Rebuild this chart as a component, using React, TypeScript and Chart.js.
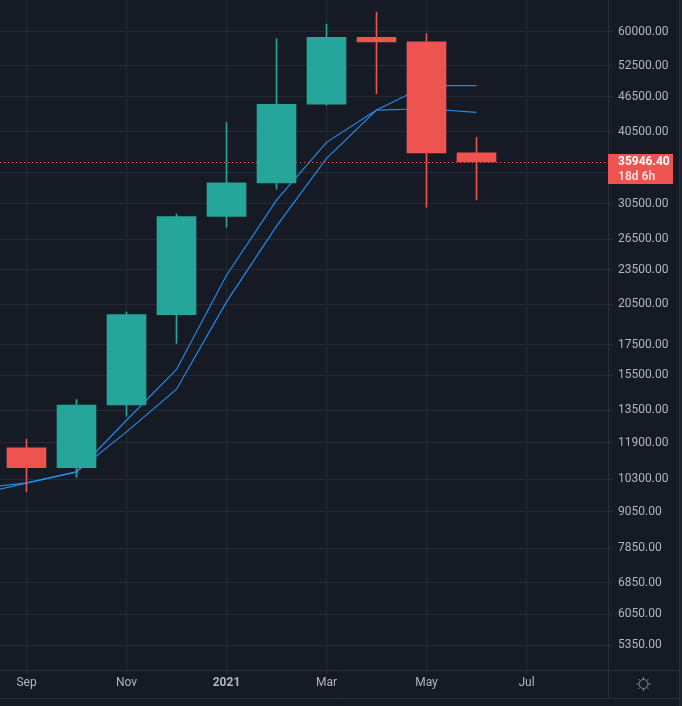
import React, { useEffect, useRef } from "react";
import { Chart, registerables } from "chart.js";

Chart.register(...registerables);

// ---- data (monthly candles, Sep 2020 .. Jun 2021) ----
const categories = ["Sep 2020", "Oct 2020", "Nov 2020", "Dec 2020", "Jan 2021", "Feb 2021", "Mar 2021", "Apr 2021", "May 2021", "Jun 2021"];
const opens = [11650, 10777, 13797, 19700, 29000, 33115, 45137, 58740, 57694, 37254];
const highs = [12050, 14100, 19900, 29300, 42000, 58400, 61900, 64900, 59600, 39600];
const lows = [9800, 10370, 13200, 17580, 27800, 32300, 44950, 47040, 30080, 30950];
const closes = [10777, 13797, 19700, 29000, 33115, 45137, 58740, 57694, 37254, 35946.4];

// moving averages, Aug 2020 .. Jun 2021
const maIndex = [-1, 0, 1, 2, 3, 4, 5, 6, 7, 8, 9];
const maFast = [9920, 10150, 10600, 12990, 15870, 23010, 30930, 38840, 44110, 48590, 48550];
const maSlow = [9700, 10140, 10600, 12410, 14680, 20710, 27910, 36460, 44110, 44340, 43720];

// axis ticks
const yTicks = [5350, 6050, 6850, 7850, 9050, 10300, 11900, 13500, 15500, 17500, 20500, 23500, 26500, 30500, 34500, 40500, 46500, 52500, 60000];
const xTickPos = [0, 2, 4, 6, 8, 10];
const xTickLabels = ["Sep", "Nov", "2021", "Mar", "May", "Jul"];
const countdown = "18d 6h";

const BG = "#161a25";
const GRID = "#262a35";
const SEP = "#2a2e39";
const TXT = "#b2b5be";
const UP = "#26a69a";
const DOWN = "#ef5350";
const MA = "#2589e8";
const FONT = "Roboto, 'Liberation Sans', sans-serif";

export default function App() {
  const ref = useRef<HTMLCanvasElement | null>(null);

  useEffect(() => {
    const canvas = ref.current;
    if (!canvas) return;
    const colors = opens.map((o, i) => (closes[i] >= o ? UP : DOWN));
    const last = closes[closes.length - 1];

    const bgPlugin = {
      id: "bg",
      beforeDraw(chart: any) {
        const c = chart.ctx;
        c.save();
        c.fillStyle = BG;
        c.fillRect(0, 0, chart.width, chart.height);
        c.restore();
      },
      beforeDatasetsDraw(chart: any) {
        const c = chart.ctx;
        const y = Math.round(chart.scales.y.getPixelForValue(last)) + 0.5;
        c.save();
        c.strokeStyle = DOWN;
        c.lineWidth = 1;
        c.setLineDash([1, 3]);
        c.beginPath();
        c.moveTo(0, y);
        c.lineTo(chart.chartArea.right, y);
        c.stroke();
        c.restore();
      },
      afterDraw(chart: any) {
        const c = chart.ctx;
        const area = chart.chartArea;
        c.save();
        // separators
        c.strokeStyle = SEP;
        c.lineWidth = 1;
        c.beginPath();
        c.moveTo(0, area.bottom + 0.5);
        c.lineTo(679, area.bottom + 0.5);
        c.moveTo(0, 698.5);
        c.lineTo(679, 698.5);
        c.moveTo(area.right + 0.5, 0);
        c.lineTo(area.right + 0.5, 698);
        c.moveTo(679.5, 0);
        c.lineTo(679.5, 706);
        c.stroke();
        c.fillStyle = "#1e222d";
        c.fillRect(680, 0, 2, 706);
        // price tag
        const y = Math.round(chart.scales.y.getPixelForValue(last));
        c.fillStyle = DOWN;
        c.fillRect(area.right, y - 8, 65, 30);
        c.fillStyle = "#ffffff";
        c.font = `bold 12px ${FONT}`;
        c.textBaseline = "middle";
        c.textAlign = "left";
        c.fillText(last.toFixed(2), 618, y);
        c.fillStyle = "rgba(255,255,255,0.78)";
        c.fillText(countdown, 618, y + 15);
        // settings icon
        const cx = 643.5, cy = 684;
        c.strokeStyle = "#8a8d96";
        c.lineWidth = 1;
        c.beginPath();
        c.arc(cx, cy, 4.5, 0, Math.PI * 2);
        c.stroke();
        c.beginPath();
        for (let k = 0; k < 8; k++) {
          const a = (k * Math.PI) / 4;
          c.moveTo(cx + Math.cos(a) * 5, cy + Math.sin(a) * 5);
          c.lineTo(cx + Math.cos(a) * 7, cy + Math.sin(a) * 7);
        }
        c.stroke();
        c.restore();
      },
    };

    const chart = new Chart(canvas, {
      type: "bar",
      data: {
        datasets: [
          {
            type: "bar",
            label: "body",
            data: categories.map((_, i) => ({ x: i, y: [opens[i], closes[i]] })) as any,
            backgroundColor: colors,
            borderWidth: 0,
            barThickness: 39,
            grouped: false,
            order: 0,
          } as any,
          {
            type: "bar",
            label: "wick",
            data: categories.map((_, i) => ({ x: i, y: [lows[i], highs[i]] })) as any,
            backgroundColor: colors,
            borderWidth: 0,
            barThickness: 1,
            grouped: false,
            order: 1,
          } as any,
          {
            type: "line",
            label: "MA fast",
            data: maIndex.map((x, i) => ({ x, y: maFast[i] })),
            borderColor: MA,
            borderWidth: 1.2,
            pointRadius: 0,
            tension: 0,
            order: 2,
          } as any,
          {
            type: "line",
            label: "MA slow",
            data: maIndex.map((x, i) => ({ x, y: maSlow[i] })),
            borderColor: MA,
            borderWidth: 1.2,
            pointRadius: 0,
            tension: 0,
            order: 3,
          } as any,
        ],
      },
      options: {
        animation: false,
        responsive: false,
        devicePixelRatio: 1,
        events: [],
        layout: { padding: 0 },
        plugins: { legend: { display: false }, tooltip: { enabled: false } },
        scales: {
          x: {
            type: "linear",
            position: "bottom",
            min: -0.53,
            max: -0.53 + 608 / 50,
            offset: false,
            afterBuildTicks: (s: any) => {
              s.ticks = xTickPos.map((v) => ({ value: v }));
            },
            afterFit: (s: any) => {
              s.height = 36;
              s.paddingLeft = 0;
              s.paddingRight = 0;
              s.paddingTop = 0;
              s.paddingBottom = 0;
            },
            ticks: {
              autoSkip: false,
              maxRotation: 0,
              padding: 2,
              color: TXT,
              font: (ctx: any) => ({
                family: FONT,
                size: 12,
                weight: ctx.tick && ctx.tick.value === 4 ? "bold" : "normal",
              }),
              callback: (_v: any, i: number) => xTickLabels[i],
            },
            grid: { color: GRID, tickLength: 4, tickColor: SEP, offset: false },
            border: { display: false },
          },
          y: {
            type: "logarithmic",
            position: "right",
            min: 4855,
            max: 68060,
            afterBuildTicks: (s: any) => {
              s.ticks = yTicks.map((v) => ({ value: v }));
            },
            afterFit: (s: any) => {
              s.width = 74;
              s.paddingLeft = 0;
              s.paddingRight = 0;
              s.paddingTop = 0;
              s.paddingBottom = 0;
            },
            ticks: {
              autoSkip: false,
              padding: 5,
              color: TXT,
              font: { family: FONT, size: 12 },
              callback: (v: any) => Number(v).toFixed(2),
            },
            grid: { color: GRID, tickLength: 5, tickColor: SEP },
            border: { display: false },
          },
        },
      } as any,
      plugins: [bgPlugin],
    });
    return () => chart.destroy();
  }, []);

  return (
    <div style={{ position: "fixed", left: 0, top: 0, width: 682, height: 706, background: BG }}>
      <canvas ref={ref} width={682} height={706} style={{ display: "block" }} />
    </div>
  );
}
